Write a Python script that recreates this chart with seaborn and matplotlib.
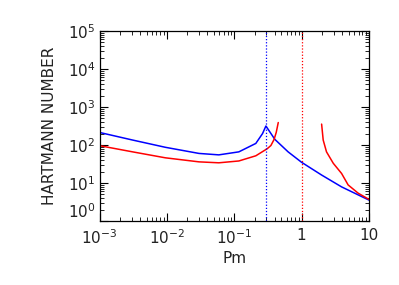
import numpy as np
import pandas as pd
import seaborn as sns
import matplotlib
matplotlib.use("Agg")
import matplotlib.pyplot as plt
from matplotlib.ticker import LogLocator, FixedLocator, NullFormatter

# Data (log-log), Pm values and Hartmann numbers
blue_pm = [1e-3, 3.1e-3, 9.5e-3, 3.0e-2, 5.9e-2, 0.117, 0.209, 0.263, 0.295,
           0.40, 0.63, 1.0, 1.98, 3.92, 10.0]
blue_ha = [214, 135, 87, 60, 55, 66, 110, 200, 316,
           141, 66, 35, 16.2, 7.9, 3.55]
red1_pm = [1e-3, 3.1e-3, 9.5e-3, 3.0e-2, 5.9e-2, 0.117, 0.209, 0.309, 0.35, 0.39, 0.42, 0.45]
red1_ha = [96, 66, 46, 36, 34, 38, 52, 80, 97, 140, 215, 390]
red2_pm = [1.98, 2.09, 2.34, 2.95, 3.92, 4.9, 6.9, 10.0]
red2_ha = [355, 135, 66, 33, 17.8, 8.9, 5.4, 3.7]
vline_blue = 0.295
vline_red = 1.0

sns.set_theme(style="white")
plt.rcParams['font.family'] = ['DejaVu Sans']

fig = plt.figure(figsize=(3.99, 2.85), dpi=100)
ax = fig.add_axes([99.5/399, 1 - 221/285, (369 - 99.5)/399, (221 - 31)/285])

df_b = pd.DataFrame({"Pm": blue_pm, "Ha": blue_ha})
df_r1 = pd.DataFrame({"Pm": red1_pm, "Ha": red1_ha})
df_r2 = pd.DataFrame({"Pm": red2_pm, "Ha": red2_ha})
sns.lineplot(data=df_b, x="Pm", y="Ha", ax=ax, color="#0000ff", lw=1.1, sort=False)
sns.lineplot(data=df_r1, x="Pm", y="Ha", ax=ax, color="#ff0000", lw=1.1, sort=False)
sns.lineplot(data=df_r2, x="Pm", y="Ha", ax=ax, color="#ff0000", lw=1.1, sort=False)
ax.axvline(vline_blue, color="#0000ff", ls=(0, (1, 1.5)), lw=0.9)
ax.axvline(vline_red, color="#ff0000", ls=(0, (1, 1.5)), lw=0.9)

ax.set_xscale("log")
ax.set_yscale("log")
ax.set_xlim(1e-3, 10)
ax.set_ylim(1, 1e5)

ax.xaxis.set_major_locator(FixedLocator([1e-3, 1e-2, 1e-1, 1, 10]))
ax.set_xticklabels(["$10^{-3}$", "$10^{-2}$", "$10^{-1}$", "1", "10"])
ax.yaxis.set_major_locator(FixedLocator([1, 10, 100, 1e3, 1e4, 1e5]))
ylabels = ax.set_yticklabels(["$10^{0}$", "$10^{1}$", "$10^{2}$", "$10^{3}$", "$10^{4}$", "$10^{5}$"])
ylabels[0].set_va("bottom")
ax.xaxis.set_minor_locator(LogLocator(base=10, subs=np.arange(2, 10), numticks=20))
ax.yaxis.set_minor_locator(LogLocator(base=10, subs=np.arange(2, 10), numticks=20))
ax.xaxis.set_minor_formatter(NullFormatter())
ax.yaxis.set_minor_formatter(NullFormatter())

ax.tick_params(which="both", direction="in", top=True, right=True, bottom=True, left=True,
               color="black", labelsize=11, labelcolor="#222222")
ax.tick_params(which="major", length=6, width=0.8)
ax.tick_params(which="minor", length=3, width=0.6)
ax.tick_params(axis="x", pad=5)
ax.tick_params(axis="y", pad=3)
for s in ax.spines.values():
    s.set_color("black")
    s.set_linewidth(0.9)
ax.set_xlabel("Pm", fontsize=11, labelpad=3, color="#222222")
ax.set_ylabel("HARTMANN NUMBER", fontsize=11, labelpad=8, color="#222222")

fig.savefig("out.png", dpi=100, facecolor="white")
